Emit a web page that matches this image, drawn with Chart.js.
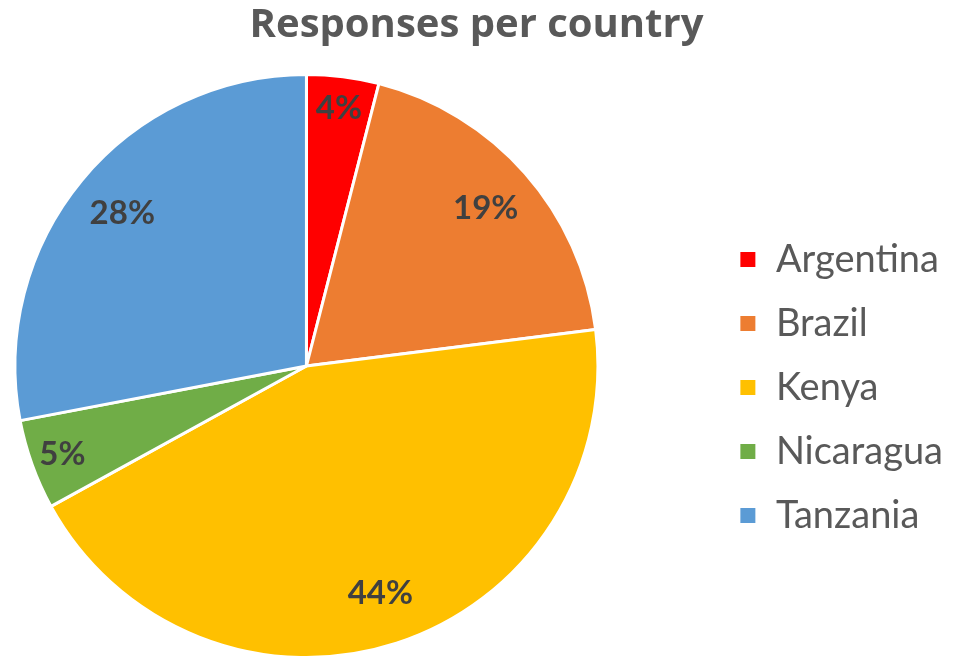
<!DOCTYPE html>
<html>
<head>
<meta charset="utf-8">
<script src="https://cdn.jsdelivr.net/npm/chart.js@4/dist/chart.umd.min.js"></script>
<style>
  body { margin: 0; background: #fff; }
  canvas { display: block; }
</style>
</head>
<body>
<canvas id="countryChart" width="953" height="659"></canvas>
<script>
// Survey responses, share per country (%)
const countries = ['Argentina', 'Brazil', 'Kenya', 'Nicaragua', 'Tanzania'];
const responses = [4, 19, 44, 5, 28];
const sliceColors = ['#FF0000', '#ED7D31', '#FFC000', '#70AD47', '#5B9BD5'];

// Draw the percentage inside each slice
const sliceLabels = {
    id: 'sliceLabels',
    afterDatasetsDraw(chart) {
        const ctx = chart.ctx;
        const meta = chart.getDatasetMeta(0);
        const total = responses.reduce((a, b) => a + b, 0);
        ctx.save();
        ctx.font = 'bold 33px Lato';
        ctx.fillStyle = '#404040';
        ctx.textAlign = 'center';
        ctx.textBaseline = 'middle';
        meta.data.forEach((arc, i) => {
            const share = responses[i] / total;
            const mid = (arc.startAngle + arc.endAngle) / 2;
            const r = arc.outerRadius * (share < 0.1 ? 0.89 : 0.82);
            const x = arc.x + Math.cos(mid) * r;
            const y = arc.y + Math.sin(mid) * r;
            ctx.fillText(Math.round(share * 100) + '%', x, y);
        });
        ctx.restore();
    }
};

// The right padding keeps the pie off to the left; move the legend back into
// that gap and a bit lower, and re-center the title on the whole canvas
const layoutShift = {
    id: 'layoutShift',
    afterUpdate(chart) {
        const lg = chart.legend;
        lg.left += 100;
        lg.right += 100;
        lg.top += 58;
        lg.bottom += 58;
        const tb = chart.titleBlock;
        tb.left += 50;
        tb.right += 50;
    }
};

const ctx = document.getElementById('countryChart').getContext('2d');
new Chart(ctx, {
    type: 'pie',
    data: {
        labels: countries,
        datasets: [{
            data: responses,
            backgroundColor: sliceColors,
            borderColor: '#ffffff',
            borderWidth: 3
        }]
    },
    options: {
        responsive: false,
        animation: false,
        events: [],
        layout: {
            padding: { left: 0, right: 100, top: 0, bottom: 0 }
        },
        plugins: {
            title: {
                display: true,
                text: 'Responses per country',
                color: '#595959',
                font: { family: 'Open Sans', size: 40, weight: 'bold' },
                padding: { top: 2, bottom: 23 }
            },
            legend: {
                position: 'right',
                labels: {
                    color: '#595959',
                    font: { family: 'Lato', size: 38 },
                    boxWidth: 18,
                    boxHeight: 18,
                    padding: 26
                }
            },
            tooltip: { enabled: false }
        }
    },
    plugins: [sliceLabels, layoutShift]
});
</script>
</body>
</html>
